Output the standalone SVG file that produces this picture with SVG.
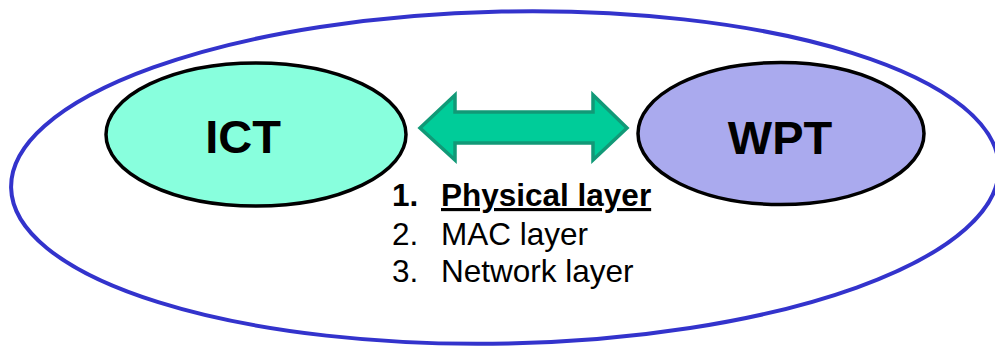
<svg xmlns="http://www.w3.org/2000/svg" width="995" height="347" viewBox="0 0 995 347">
<style>
.node{stroke:#000;stroke-width:3.5}
.lbl{font-family:"Liberation Sans",Arial,sans-serif;font-weight:bold;font-size:47px;fill:#000}
.li{font-family:"Liberation Sans",Arial,sans-serif;font-size:31.5px;fill:#000}
.b{font-weight:bold}
</style>
<rect width="995" height="347" fill="#fff"/>
<g id="outer">
<ellipse cx="505" cy="177.5" rx="494" ry="166" transform="rotate(-1.2 505 177.5)" fill="none" stroke="#3333CC" stroke-width="4"/>
</g>
<g id="ict">
<ellipse class="node" cx="256" cy="134.5" rx="150" ry="71.5" fill="#88FFDD"/>
<text class="lbl" x="243" y="153" text-anchor="middle">ICT</text>
</g>
<g id="wpt">
<ellipse class="node" cx="781" cy="133.5" rx="143" ry="71" fill="#AAAAEE"/>
<text class="lbl" x="780" y="154" text-anchor="middle">WPT</text>
</g>
<g id="connectors">
<polygon points="420,128 455,95 455,112 593,112 593,95 627,128 593,160 593,143 455,143 455,160" fill="#00CC99" stroke="#119977" stroke-width="3.5" stroke-linejoin="miter"/>
</g>
<g id="list">
<text class="li b" x="392" y="206">1.</text>
<text class="li b" x="441" y="206" text-decoration="underline">Physical layer</text>
<text class="li" x="392" y="245">2.</text>
<text class="li" x="441" y="245">MAC layer</text>
<text class="li" x="392" y="282">3.</text>
<text class="li" x="441" y="282">Network layer</text>
</g>
</svg>
